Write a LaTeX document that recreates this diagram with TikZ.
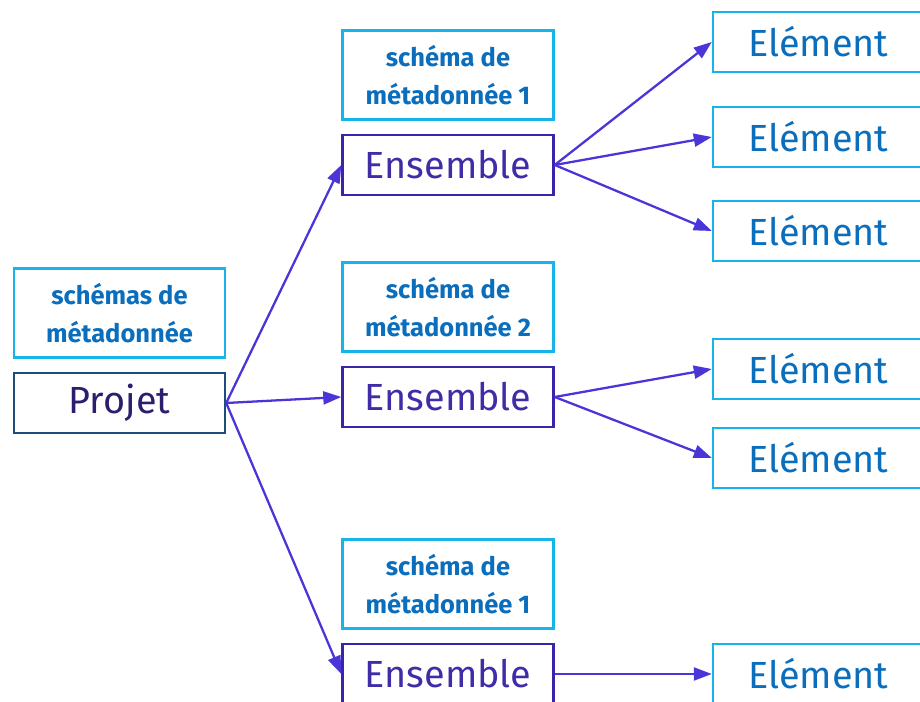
\documentclass[tikz,border=0pt]{standalone}
\usepackage{fontspec}
\setmainfont{Fira Sans}
\usepackage{tikz}
\usetikzlibrary{positioning, arrows.meta}
\definecolor{cyanline}{HTML}{17B4E9}
\definecolor{bluetext}{HTML}{0A6EBD}
\definecolor{navyline}{HTML}{1B4F7A}
\definecolor{navytext}{HTML}{2A1F6E}
\definecolor{violetline}{HTML}{3B24A8}
\definecolor{violettext}{HTML}{3F2DA8}
\definecolor{arrowcol}{HTML}{4A35D9}
\tikzset{
  node distance=0.26cm,
  box/.style={draw, line width=1.4pt, minimum width=4.22cm, minimum height=1.2cm,
    inner sep=0pt, font=\fontsize{21.5}{26}\selectfont},
  metabox/.style={draw=cyanline, text=bluetext, line width=1.4pt, minimum width=4.22cm,
    minimum height=1.78cm, align=center, inner sep=0pt,
    font=\bfseries\fontsize{14.5}{22}\selectfont},
  projbox/.style={box, draw=navyline, text=navytext},
  ensbox/.style={box, draw=violetline, text=violettext},
  elembox/.style={box, draw=cyanline, text=bluetext},
  link/.style={draw=arrowcol, line width=1.3pt, -{Triangle[length=0.36cm,width=0.26cm]}},
}

\begin{document}
\begin{tikzpicture}[x=0.02cm, y=0.02cm]
  \useasboundingbox (0,0) rectangle (920,702);
  \clip (0,0) rectangle (920,702);

  % project
  \node[projbox] (projet) at (119.5,299) {Projet};
  \node[metabox, above=of projet] (metas) {schémas de\\métadonnée};

  % sets
  \node[ensbox] (ens1) at (448,537) {Ensemble};
  \node[ensbox] (ens2) at (448,305) {Ensemble};
  \node[ensbox] (ens3) at (448,28) {Ensemble};
  \node[metabox, above=of ens1] (meta1) {schéma de\\métadonnée 1};
  \node[metabox, above=of ens2] (meta2) {schéma de\\métadonnée 2};
  \node[metabox, above=of ens3] (meta3) {schéma de\\métadonnée 1};

  % elements
  \node[elembox] (el1) at (818.5,660) {Elément};
  \node[elembox] (el2) at (818.5,565) {Elément};
  \node[elembox] (el3) at (818.5,471) {Elément};
  \node[elembox] (el4) at (818.5,333) {Elément};
  \node[elembox] (el5) at (818.5,244) {Elément};
  \node[elembox] (el6) at (818.5,28) {Elément};

  % links
  \foreach \e in {ens1, ens2, ens3}
    \draw[link] (projet.east) -- (\e.west);
  \foreach \e in {el1, el2, el3}
    \draw[link] (ens1.east) -- (\e.west);
  \foreach \e in {el4, el5}
    \draw[link] (ens2.east) -- (\e.west);
  \draw[link] (ens3.east) -- (el6.west);
\end{tikzpicture}
\end{document}
